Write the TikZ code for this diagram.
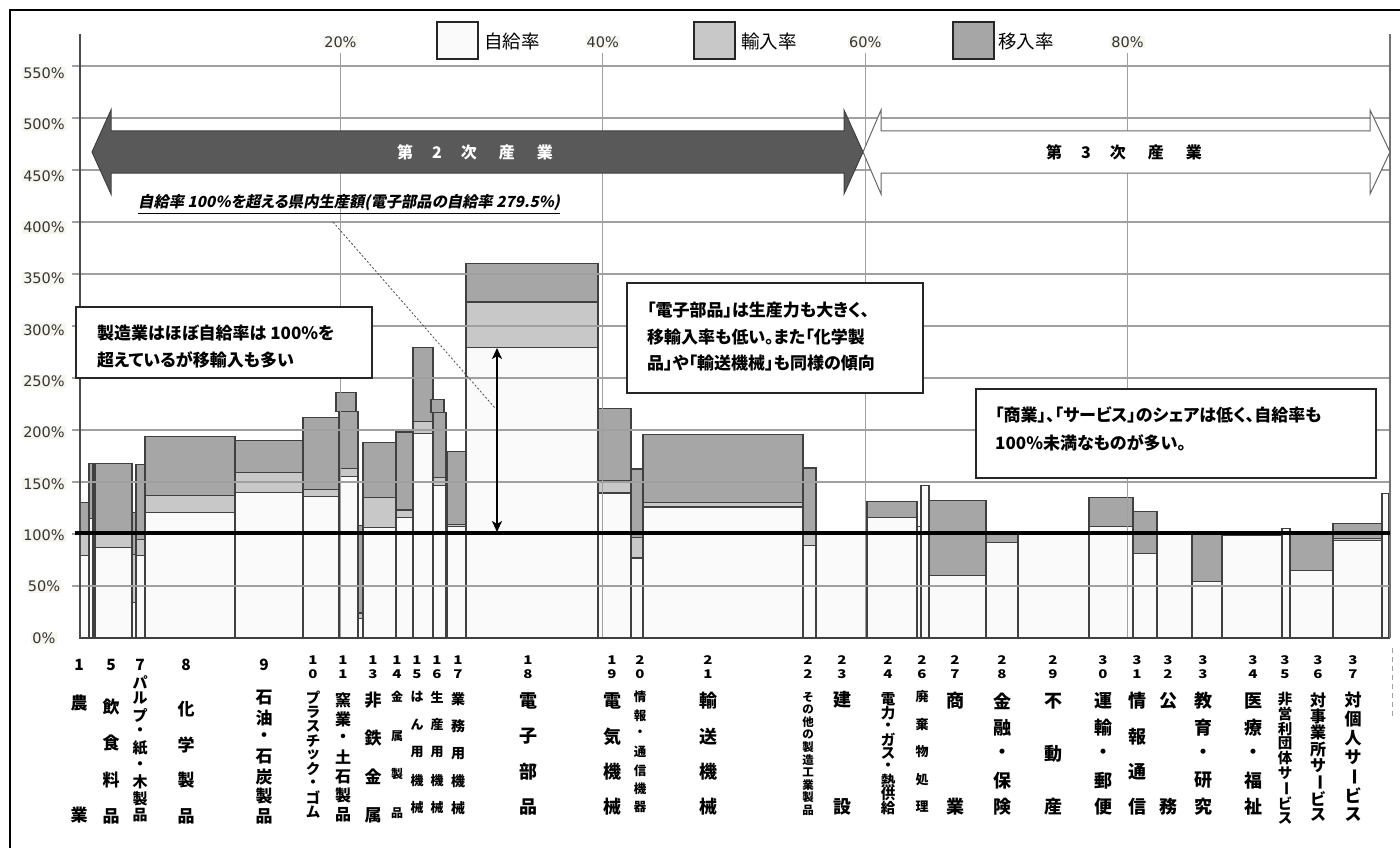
\documentclass[tikz,border=0pt]{standalone}
\usepackage{fontspec}
\usepackage{graphicx}
\usetikzlibrary{arrows.meta}
\newfontfamily\jp{Noto Sans CJK JP}
\newfontfamily\jpp{Noto Sans CJK JP}[RawFeature=+palt]
\newfontfamily\jpsl{Noto Sans CJK JP}[FakeSlant=0.2,RawFeature=+palt]
\newfontfamily\numf{DejaVu Sans}
\definecolor{selfc}{HTML}{FAFAFA}
\definecolor{impc}{HTML}{C8C8C8}
\definecolor{movc}{HTML}{A6A6A6}
\definecolor{edgec}{HTML}{404040}
\definecolor{gridc}{HTML}{A0A0A0}
\definecolor{darkarrow}{HTML}{595959}
\definecolor{labbg}{HTML}{F6F6EE}

% one sector: x1, x2, self-supply %, +import %, +inflow % (cumulative)
\newcommand\mbar[5]{%
  \filldraw[bar, fill=selfc] (#1,638) rectangle (#2,{638-1.04*#3});
  \ifdim #4pt>#3pt \filldraw[bar, fill=impc] (#1,{638-1.04*#3}) rectangle (#2,{638-1.04*#4});\fi
  \ifdim #5pt>#4pt \filldraw[bar, fill=movc] (#1,{638-1.04*#4}) rectangle (#2,{638-1.04*#5});\fi
}
% vertical sector name: x, tag, font size, top y, bottom y, characters
\newcommand\vlab[6]{%
  \def\nn{0}%
  \foreach \ch in {#6}{\pgfmathtruncatemacro\tmpn{\nn+1}\xdef\nn{\tmpn}}%
  \foreach \ch [count=\i] in {#6}{%
    \pgfmathsetmacro\yy{#4+(\i-1)*(#5-#4)/max(\nn-1,1)}%
    \node[vchar, font=\jp\bfseries\fontsize{#3}{#3}\selectfont] (v#2-\i) at (#1,\yy) {\ch};
  }%
}
\newcommand\onum[2]{\node[vchar, font=\jp\bfseries\fontsize{15.5}{15.5}\selectfont] (n#2) at (#1,665) {#2};}
\newcommand\tnum[3]{%
  \node[vchar, font=\jp\bfseries\fontsize{15}{15}\selectfont] (n#2#3a) at (#1,660) {\scalebox{1}[0.8]{#2}};
  \node[vchar, font=\jp\bfseries\fontsize{15}{15}\selectfont] (n#2#3b) at (#1,674) {\scalebox{1}[0.8]{#3}};}
\newcommand\vbar{{\rotatebox{-90}{ー}}}

\begin{document}
\begin{tikzpicture}[x=1pt,y=-1pt,
  bar/.style={draw=edgec, line width=1.2pt},
  grid/.style={draw=gridc, line width=1.1pt},
  vchar/.style={inner sep=0pt, anchor=center},
  ylab/.style={font=\numf\fontsize{14.5}{14.5}\selectfont, text=black!80, fill=labbg, inner sep=1pt},
  tbox/.style={draw=black!85, line width=1.3pt, fill=white, inner sep=0pt},
  btxt/.style={font=\jpp\bfseries\fontsize{17}{17}\selectfont, anchor=west, inner sep=0pt},
  lgbox/.style={draw=black!85, line width=1.2pt, minimum width=41pt, minimum height=37pt, inner sep=0pt},
  lgtxt/.style={font=\jp\fontsize{18.5}{18.5}\selectfont, anchor=west, inner sep=0pt}]
\useasboundingbox (0,0) rectangle (1400,848);
\fill[white] (0,0) rectangle (1400,848);

% sectors, left to right
\mbar{80}{89}{79}{100}{130}
\mbar{89}{93}{115}{115}{168}
\mbar{93}{95}{120}{120}{168}
\mbar{95}{132}{87}{101}{168}
\mbar{132}{136}{34}{80}{121}
\mbar{136}{145}{79}{95}{167}
\mbar{145}{235}{121}{137}{194}
\mbar{235}{303}{140}{159}{190}
\mbar{303}{339}{136}{143}{212}
\filldraw[bar, fill=movc] (336,{638-1.04*218}) rectangle (356,{638-1.04*236});
\mbar{339}{358}{155}{163}{218}
\mbar{358}{363}{19}{24}{108}
\mbar{363}{396}{106}{135}{188}
\mbar{396}{413}{116}{123}{198}
\mbar{413}{433}{197}{208}{279}
\filldraw[bar, fill=movc] (431,{638-1.04*217}) rectangle (444,{638-1.04*229});
\mbar{433}{446}{147}{154}{217}
\mbar{447}{466}{107}{109}{179}
\mbar{466}{598}{279.5}{323}{360}
\mbar{598}{631}{139.5}{151}{221}
\mbar{631}{643}{77}{97}{162.5}
\mbar{643}{803}{126}{130}{196}
\mbar{803}{816}{89}{100}{163.5}
\mbar{816}{867}{100}{100}{100}
\mbar{867}{917}{116}{116}{131.5}
\mbar{917}{921}{107}{107}{107}
\mbar{921}{929}{147}{147}{147}
\mbar{929}{986}{60}{60}{132}
\mbar{986}{1018}{92}{92}{100}
\mbar{1018}{1089}{100}{100}{100}
\mbar{1089}{1133}{107}{107}{135}
\mbar{1133}{1157}{81.5}{81.5}{122}
\mbar{1157}{1192}{100}{100}{100}
\mbar{1192}{1222}{54}{54}{100}
\mbar{1222}{1282}{99}{99}{99}
\mbar{1282}{1290}{105}{105}{105}
\mbar{1290}{1333}{65}{65}{100.5}
\mbar{1333}{1382}{94}{96}{110}
\mbar{1382}{1389}{139}{139}{139}

% grid
\foreach \p in {50,100,...,550}
  \draw[grid] (72,{638-1.04*\p}) -- (1390,{638-1.04*\p});
\foreach \s in {20,40,60,80}
  \draw[grid] ({78+13.12*\s},53) -- ({78+13.12*\s},638);
\draw[draw=edgec, line width=1.2pt] (80,638) -- (1390,638);
\draw[draw=black!70, line width=1.3pt] (80,34) -- (80,638);
\draw[draw=black!55, line width=1.1pt] (1390,34) -- (1390,638);
\draw[gridc, line width=1pt, dash pattern=on 5pt off 4pt] (1392,648) -- (1392,718);

% 100% reference line
\draw[line width=4.5pt] (75,533) -- (1390,533);

% frame
\draw[line width=2pt] (10,848) -- (10,10) -- (1400,10);

% axis labels
\foreach \p in {0,50,...,550}
  \node[ylab] (y\p) at (44,{638-1.027*\p}) {\p\%};
\foreach \s in {20,40,60,80}
  \node[ylab] (t\s) at ({78+13.12*\s},42) {\s\%};

% legend
\node[lgbox, fill=selfc] (lg1) at (457.5,40.5) {};
\node[lgtxt] (lt1) at (484,41) {自給率};
\node[lgbox, fill=impc] (lg2) at (714.5,40.5) {};
\node[lgtxt] (lt2) at (741,41) {輸入率};
\node[lgbox, fill=movc] (lg3) at (973.5,40.5) {};
\node[lgtxt] (lt3) at (998,41) {移入率};

% secondary / tertiary industry arrows
\filldraw[fill=darkarrow, draw=black!75, line width=1pt]
  (92,152) -- (111,110) -- (111,131) -- (844,131) -- (844,110) -- (863,152)
  -- (844,194) -- (844,173) -- (111,173) -- (111,194) -- cycle;
\filldraw[fill=white, draw=black!60, line width=1pt]
  (863,152) -- (881,110) -- (881,131) -- (1370,131) -- (1370,110) -- (1390,152)
  -- (1370,194) -- (1370,173) -- (881,173) -- (881,194) -- cycle;
\node[font=\jp\bfseries\fontsize{16}{16}\selectfont, text=white, inner sep=0pt] (ind2) at (475,152)
  {第\hspace{19pt}2\hspace{19pt}次\hspace{22pt}産\hspace{22pt}業};
\node[font=\jp\bfseries\fontsize{16}{16}\selectfont, text=black, inner sep=0pt] (ind3) at (1124,152)
  {第\hspace{19pt}3\hspace{19pt}次\hspace{22pt}産\hspace{22pt}業};

% underlined note and its leader
\node[font=\jpsl\bfseries\fontsize{15.3}{15.3}\selectfont, anchor=west, inner sep=0pt] (ul) at (138,203)
  {自給率 100\%を超える県内生産額(電子部品の自給率 279.5\%)};
\draw[line width=1.3pt] ([yshift=-2pt]ul.south west) -- ([yshift=-2pt]ul.south east);
\coordinate (dA) at (333,222);
\coordinate (dB) at (495,408);
\draw[black!70, line width=0.8pt, dash pattern=on 2pt off 2pt] (dA) -- (dB);

% self-supply span of electronic parts
\coordinate (arT) at (497,348);
\coordinate (arB) at (497,532);
\draw[line width=2pt, {Stealth[length=11pt,width=10pt,inset=3pt]}-{Stealth[length=11pt,width=10pt,inset=3pt]}] (arT) -- (arB);

% comment boxes
\node[tbox, minimum width=296pt, minimum height=71pt] (box1) at (224,342.5) {};
\node[btxt] (b1a) at (97,333) {製造業はほぼ自給率は 100\%を};
\node[btxt] (b1b) at (97,360) {超えているが移輸入も多い};
\node[tbox, minimum width=296pt, minimum height=110pt] (box2) at (775,338) {};
\node[btxt] (b2a) at (647,310) {「電子部品」は生産力も大きく、};
\node[btxt] (b2b) at (647,337) {移輸入率も低い。また「化学製};
\node[btxt] (b2c) at (647,363) {品」や「輸送機械」も同様の傾向};
\node[tbox, minimum width=400pt, minimum height=89pt] (box3) at (1176,433.5) {};
\node[btxt] (b3a) at (995,415) {「商業」、「サービス」のシェアは低く、自給率も};
\node[btxt] (b3b) at (995,443) {100\%未満なものが多い。};

% sector numbers and names
\onum{79}{1}   \vlab{79}{1}{17}{703}{815}{農,業}
\onum{111}{5}  \vlab{111}{5}{17}{707}{816}{飲,食,料,品}
\onum{140}{7}  \vlab{140}{7}{15}{682}{815}{パ,ル,プ,・,紙,・,木,製,品}
\onum{186}{8}  \vlab{186}{8}{17}{709}{816}{化,学,製,品}
\onum{264}{9}  \vlab{264}{9}{17}{698}{816}{石,油,・,石,炭,製,品}
\tnum{313}{1}{0} \vlab{313}{10}{14.5}{698}{812}{プ,ラ,ス,チ,ッ,ク,・,ゴ,ム}
\tnum{343}{1}{1} \vlab{343}{11}{16}{700}{815}{窯,業,・,土,石,製,品}
\tnum{373}{1}{3} \vlab{373}{13}{17}{700}{815}{非,鉄,金,属}
\tnum{397}{1}{4} \vlab{397}{14}{12}{697}{813}{金,属,製,品}
\tnum{417}{1}{5} \vlab{417}{15}{13}{697}{808}{は,ん,用,機,械}
\tnum{437}{1}{6} \vlab{437}{16}{13}{697}{808}{生,産,用,機,械}
\tnum{458}{1}{7} \vlab{458}{17}{14}{699}{808}{業,務,用,機,械}
\tnum{528}{1}{8} \vlab{528}{18}{18}{701}{807}{電,子,部,品}
\tnum{612}{1}{9} \vlab{612}{19}{18}{701}{807}{電,気,機,械}
\tnum{640}{2}{0} \vlab{640}{20}{12.5}{697}{807}{情,報,・,通,信,機,器}
\tnum{708}{2}{1} \vlab{708}{21}{18}{701}{807}{輸,送,機,械}
\tnum{808}{2}{2} \vlab{808}{22}{11.5}{697}{810}{そ,の,他,の,製,造,工,業,製,品}
\tnum{842}{2}{3} \vlab{842}{23}{18}{700}{807}{建,設}
\tnum{888}{2}{4} \vlab{888}{24}{14.5}{699}{808}{電,力,・,ガ,ス,・,熱,供,給}
\tnum{922}{2}{6} \vlab{922}{26}{13}{697}{807}{廃,棄,物,処,理}
\tnum{955}{2}{7} \vlab{955}{27}{18}{701}{807}{商,業}
\tnum{1002}{2}{8} \vlab{1002}{28}{18}{701}{807}{金,融,・,保,険}
\tnum{1053}{2}{9} \vlab{1053}{29}{18}{701}{807}{不,動,産}
\tnum{1103}{3}{0} \vlab{1103}{30}{18}{701}{807}{運,輸,・,郵,便}
\tnum{1137}{3}{1} \vlab{1137}{31}{18}{701}{807}{情,報,通,信}
\tnum{1168}{3}{2} \vlab{1168}{32}{18}{701}{807}{公,務}
\tnum{1203}{3}{3} \vlab{1203}{33}{18}{701}{807}{教,育,・,研,究}
\tnum{1253}{3}{4} \vlab{1253}{34}{18}{701}{807}{医,療,・,福,祉}
\tnum{1285}{3}{5} \vlab{1285}{35}{14.5}{699}{818}{非,営,利,団,体,サ,\vbar,ビ,ス}
\tnum{1318}{3}{6} \vlab{1318}{36}{16}{700}{815}{対,事,業,所,サ,\vbar,ビ,ス}
\tnum{1353}{3}{7} \vlab{1353}{37}{17}{700}{815}{対,個,人,サ,\vbar,ビ,ス}
\end{tikzpicture}
\end{document}
